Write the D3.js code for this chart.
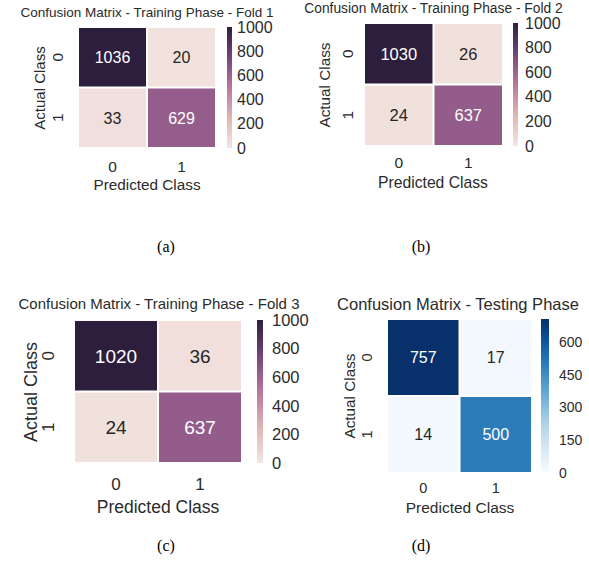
<!DOCTYPE html>
<html>
<head>
<meta charset="utf-8">
<script src="https://cdn.jsdelivr.net/npm/d3@7"></script>
<style>
  html, body { margin: 0; padding: 0; background: #fff; }
  svg { display: block; }
</style>
</head>
<body>
<svg id="chart" width="589" height="565"></svg>
<script>
// ---------------- DATA ----------------
const classes = ["0", "1"];
const fold1Matrix = [[1036, 20], [33, 629]];
const fold2Matrix = [[1030, 26], [24, 637]];
const fold3Matrix = [[1020, 36], [24, 637]];
const testingMatrix = [[757, 17], [14, 500]];
const panelTitles = [
  "Confusion Matrix - Training Phase - Fold 1",
  "Confusion Matrix - Training Phase - Fold 2",
  "Confusion Matrix - Training Phase - Fold 3",
  "Confusion Matrix - Testing Phase"
];
const captions = ["(a)", "(b)", "(c)", "(d)"];
const trainingColourTicks = [0, 200, 400, 600, 800, 1000];
const testingColourTicks = [0, 150, 300, 450, 600];
const colourLimits = [[0, 1000], [0, 1000], [0, 1000], [0, 705]];
const xAxisLabel = "Predicted Class";
const yAxisLabel = "Actual Class";

// ---------------- STYLE / LAYOUT ----------------
const textColour = "#2b2b2b";
const fontFamily = "'Liberation Sans', Arial, Helvetica, sans-serif";
const captionFont = "'Liberation Serif', 'Times New Roman', serif";

const helixStops = ["#f3e6e2", "#e0b4b3", "#b8779d", "#74457a", "#2d1e3e"];
function helixColour(t) {
  return d3.scaleLinear().domain([0, .25, .5, .75, 1]).range(helixStops)
    .interpolate(d3.interpolateRgb).clamp(true)(t);
}
function bluesColour(t) { return d3.interpolateBlues(Math.max(0, Math.min(1, t))); }

const layouts = [
  { title: {x: 147, y: 16.5, s: 13.5}, hm: {x0: 78, x1: 216, y0: 27, y1: 148},
    cb: {x0: 227, x1: 232, pad: 5, s: 16}, cell: 16, xt: {y: 172, s: 15.5},
    xl: {x: 147, y: 190, s: 15.3}, yl: {x: 45, y: 88, s: 15}, yt: {x: 63, s: 15.5},
    cap: {x: 166, y: 252} },
  { title: {x: 433.5, y: 12.5, s: 13.8}, hm: {x0: 364, x1: 503, y0: 23, y1: 146},
    cb: {x0: 513, x1: 518, pad: 7, s: 16}, cell: 16.5, xt: {y: 168, s: 15.5},
    xl: {x: 433, y: 188, s: 15.7}, yl: {x: 330, y: 85, s: 15.3}, yt: {x: 353, s: 15.5},
    cap: {x: 421, y: 252} },
  { title: {x: 159, y: 309, s: 15}, hm: {x0: 74, x1: 242, y0: 320, y1: 463},
    cb: {x0: 257, x1: 263, pad: 9, s: 16.5}, cell: 19, xt: {y: 490, s: 17},
    xl: {x: 158, y: 513, s: 17.5}, yl: {x: 37, y: 392, s: 18}, yt: {x: 54, s: 17},
    cap: {x: 166, y: 551} },
  { title: {x: 458, y: 310, s: 16.5}, hm: {x0: 387, x1: 532, y0: 319, y1: 473},
    cb: {x0: 541, x1: 549, pad: 10, s: 14}, cell: 16, xt: {y: 493, s: 14.5},
    xl: {x: 460, y: 513, s: 15.5}, yl: {x: 355, y: 396, s: 15.3}, yt: {x: 372, s: 14.5},
    cap: {x: 421, y: 551} }
];

const matrices = [fold1Matrix, fold2Matrix, fold3Matrix, testingMatrix];
const colourFns = [helixColour, helixColour, helixColour, bluesColour];
const colourTicks = [trainingColourTicks, trainingColourTicks, trainingColourTicks, testingColourTicks];

const svg = d3.select("#chart");
svg.append("rect").attr("width", 589).attr("height", 565).attr("fill", "#fff");
const defs = svg.append("defs");

function luminance(c) {
  const rgb = d3.rgb(c);
  const f = v => { v /= 255; return v <= 0.03928 ? v / 12.92 : Math.pow((v + 0.055) / 1.055, 2.4); };
  return 0.2126 * f(rgb.r) + 0.7152 * f(rgb.g) + 0.0722 * f(rgb.b);
}

matrices.forEach((matrix, p) => {
  const L = layouts[p];
  const g = svg.append("g");
  const lim = colourLimits[p];
  const norm = d3.scaleLinear().domain(lim).range([0, 1]);
  const colour = v => colourFns[p](norm(v));

  const x = d3.scaleBand().domain(classes).range([L.hm.x0, L.hm.x1]);
  const y = d3.scaleBand().domain(classes).range([L.hm.y0, L.hm.y1]);

  // title
  g.append("text").attr("x", L.title.x).attr("y", L.title.y)
    .attr("text-anchor", "middle").attr("font-family", fontFamily)
    .attr("font-size", L.title.s).attr("fill", textColour).text(panelTitles[p]);

  // cells
  const cells = [];
  matrix.forEach((row, i) => row.forEach((v, j) => cells.push({r: classes[i], c: classes[j], v})));
  g.selectAll("rect.cell").data(cells).enter().append("rect")
    .attr("class", "cell")
    .attr("x", d => x(d.c) + 1).attr("y", d => y(d.r) + 1)
    .attr("width", x.bandwidth() - 2).attr("height", y.bandwidth() - 2)
    .attr("fill", d => colour(d.v));
  g.selectAll("text.ann").data(cells).enter().append("text")
    .attr("class", "ann")
    .attr("x", d => x(d.c) + x.bandwidth() / 2)
    .attr("y", d => y(d.r) + y.bandwidth() / 2)
    .attr("dy", "0.36em").attr("text-anchor", "middle")
    .attr("font-family", fontFamily).attr("font-size", L.cell)
    .attr("fill", d => luminance(colour(d.v)) < 0.408 ? "#ffffff" : "#262626")
    .text(d => d.v);

  // x tick labels
  const xAxis = g.append("g").attr("transform", `translate(0,${L.xt.y})`)
    .call(d3.axisBottom(x).tickSize(0).tickPadding(0));
  xAxis.select(".domain").remove();
  xAxis.selectAll("text").attr("dy", 0).attr("y", 0)
    .attr("font-family", fontFamily).attr("font-size", L.xt.s).attr("fill", textColour);

  // y tick labels (rotated)
  const yAxis = g.append("g").attr("transform", `translate(${L.yt.x},0)`)
    .call(d3.axisLeft(y).tickSize(0).tickPadding(0));
  yAxis.select(".domain").remove();
  yAxis.selectAll("text").attr("x", 0).attr("dy", 0)
    .attr("text-anchor", "middle").attr("transform", "rotate(-90)")
    .attr("font-family", fontFamily).attr("font-size", L.yt.s).attr("fill", textColour);

  // axis labels
  g.append("text").attr("x", L.xl.x).attr("y", L.xl.y).attr("text-anchor", "middle")
    .attr("font-family", fontFamily).attr("font-size", L.xl.s).attr("fill", textColour)
    .text(xAxisLabel);
  g.append("text").attr("transform", `translate(${L.yl.x},${L.yl.y}) rotate(-90)`)
    .attr("text-anchor", "middle")
    .attr("font-family", fontFamily).attr("font-size", L.yl.s).attr("fill", textColour)
    .text(yAxisLabel);

  // colour bar
  const gradId = "grad" + p;
  const grad = defs.append("linearGradient").attr("id", gradId)
    .attr("x1", 0).attr("y1", 1).attr("x2", 0).attr("y2", 0);
  d3.range(0, 1.0001, 0.05).forEach(t => {
    grad.append("stop").attr("offset", t).attr("stop-color", colourFns[p](t));
  });
  g.append("rect").attr("x", L.cb.x0).attr("y", L.hm.y0)
    .attr("width", L.cb.x1 - L.cb.x0).attr("height", L.hm.y1 - L.hm.y0)
    .attr("fill", `url(#${gradId})`);
  const cScale = d3.scaleLinear().domain(lim).range([L.hm.y1, L.hm.y0]);
  const cAxis = g.append("g").attr("transform", `translate(${L.cb.x1},0)`)
    .call(d3.axisRight(cScale).tickValues(colourTicks[p]).tickSize(0).tickPadding(L.cb.pad)
      .tickFormat(d3.format("d")));
  cAxis.select(".domain").remove();
  cAxis.selectAll("text").attr("font-family", fontFamily).attr("font-size", L.cb.s)
    .attr("fill", textColour);

  // caption
  svg.append("text").attr("x", L.cap.x).attr("y", L.cap.y).attr("text-anchor", "middle")
    .attr("font-family", captionFont).attr("font-size", 16).attr("fill", "#000")
    .text(captions[p]);
});
</script>
</body>
</html>
